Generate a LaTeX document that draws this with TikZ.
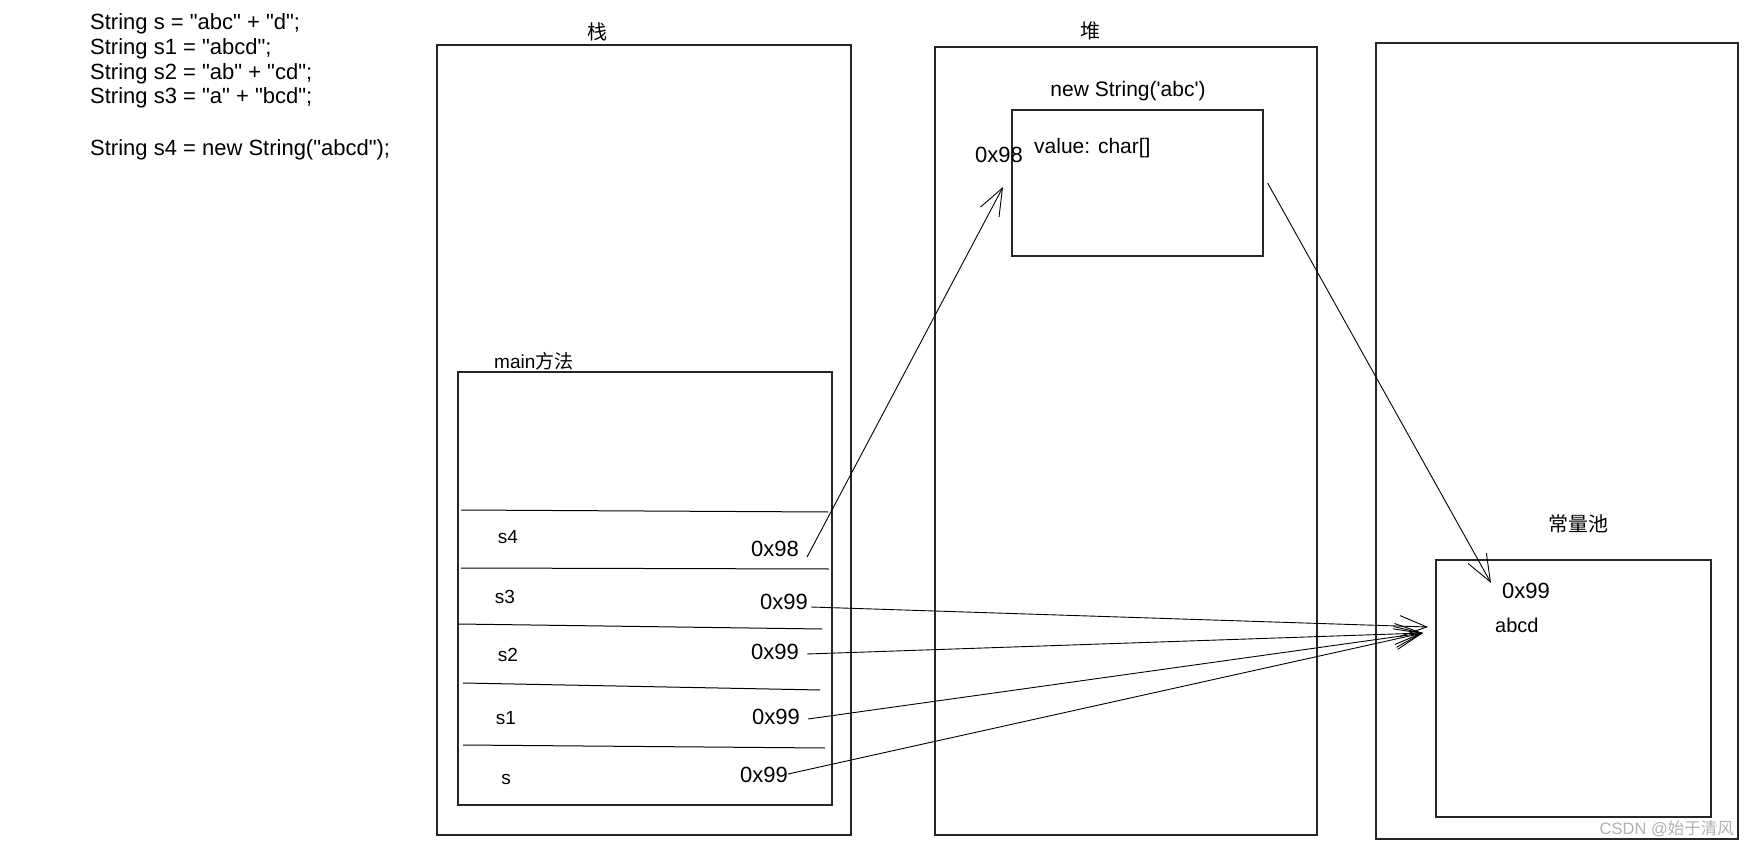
\documentclass[tikz,border=0pt]{standalone}
\usepackage{fontspec}
\setmainfont{Liberation Sans}[Ligatures=TeXOff]
\newfontfamily\cjk{Noto Sans CJK SC}
\usetikzlibrary{arrows.meta}
\begin{document}
\begin{tikzpicture}[x=1pt,y=-1pt,
  box/.style={draw=black!85,line width=1.3pt},
  inbox/.style={draw=black!85,line width=1.2pt},
  rowline/.style={line width=1pt},
  code/.style={anchor=west,inner sep=0pt,font=\fontsize{22}{24}\selectfont},
  lbl/.style={inner sep=0pt,font=\fontsize{19}{22}\selectfont},
  val/.style={inner sep=0pt,font=\fontsize{22}{24}\selectfont},
  cjklbl/.style={inner sep=0pt,font=\fontsize{20}{22}\selectfont\cjk},
  arr/.style={-{Straight Barb[length=27pt,width=21pt]},line width=0.9pt}]
\useasboundingbox[fill=white] (0,0) rectangle (1748,850);

% code
\node[code] (c1) at (90,24) {String s = "abc" + "d";};
\node[code] (c2) at (90,48.5) {String s1 = "abcd";};
\node[code] (c3) at (90,73.5) {String s2 = "ab" + "cd";};
\node[code] (c4) at (90,98) {String s3 = "a" + "bcd";};
\node[code] (c5) at (90,149.5) {String s4 = new String("abcd");};

% stack
\draw[box] (437,45) rectangle (851,835);
\node[cjklbl] (tstack) at (597,32) {栈};
\draw[inbox] (458,372) rectangle (832,805);
\node[lbl,anchor=west] (tmain) at (494,361) {main{\cjk 方法}};
\draw[rowline] (461,510) -- (828,512);
\draw[rowline] (461,568) -- (829,569);
\draw[rowline] (458,624) -- (822,629);
\draw[rowline] (463,683) -- (820,690);
\draw[rowline] (463,745) -- (825,748);

\node[lbl] (k4) at (508,537) {s4};
\node[lbl] (k3) at (505,597) {s3};
\node[lbl] (k2) at (508,655) {s2};
\node[lbl] (k1) at (506,718) {s1};
\node[lbl] (k0) at (506,779) {s};
\node[val] (v4) at (775,549) {0x98};
\node[val] (v3) at (784,602) {0x99};
\node[val] (v2) at (775,652) {0x99};
\node[val] (v1) at (776,717) {0x99};
\node[val] (v0) at (764,775) {0x99};

% heap
\draw[box] (935,47) rectangle (1317,835);
\node[cjklbl] (theap) at (1090,31) {堆};
\node[inbox,minimum width=251pt,minimum height=146pt,inner sep=0pt] (hobj) at (1137.5,183) {};
\node[val,font=\fontsize{21}{24}\selectfont] (tnew) at (1128,91) {new String('abc')};
\node[val,anchor=west,font=\fontsize{21}{24}\selectfont] (tvalue) at (1034,148) {value: char[]};
\node[val,anchor=west] (a98) at (975,155) {0x98};

% constant pool
\draw[box] (1376,43) rectangle (1738,839);
\node[inbox,minimum width=275pt,minimum height=257pt,inner sep=0pt] (pool) at (1573.5,688.5) {};
\node[cjklbl] (tpool) at (1578,524) {常量池};
\node[val,anchor=west] (p99) at (1502,591) {0x99};
\node[val,anchor=west,font=\fontsize{20}{22}\selectfont] (pabcd) at (1495,625) {abcd};
\node[inner sep=0pt,anchor=east,text=black!30,font=\fontsize{16.5}{18}\selectfont] (wm) at (1734,829) {CSDN @{\cjk 始于清风}};

% connectors
\coordinate (tip98) at (1003,187);
\coordinate (tipp) at (1491,583);
\coordinate (pin3) at (1428,627);
\coordinate (pin) at (1423,633);
\draw[arr] ([shift={(8pt,-8pt)}]v4.east) -- (tip98);
\draw[arr] ([xshift=4pt]hobj.east) -- (tipp);
\draw[arr] ([shift={(3pt,-5pt)}]v3.east) -- (pin3);
\draw[arr] ([shift={(8pt,-2pt)}]v2.east) -- (pin);
\draw[arr] ([shift={(8pt,-2pt)}]v1.east) -- (pin);
\draw[arr] ([shift={(0pt,1pt)}]v0.east) -- (pin);
\end{tikzpicture}
\end{document}
